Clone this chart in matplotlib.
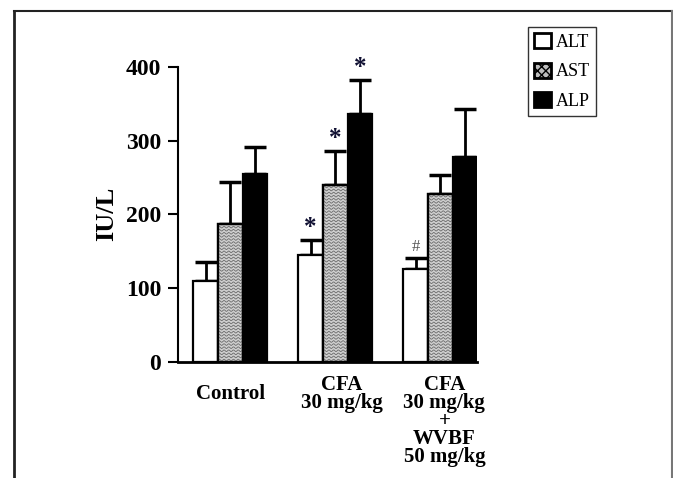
import numpy as np
import matplotlib
matplotlib.use("Agg")
import matplotlib.pyplot as plt
from matplotlib.patches import Patch, Rectangle
from matplotlib.lines import Line2D

groups = ["Control", "CFA\n30 mg/kg", "CFA\n30 mg/kg\n+\nWVBF\n50 mg/kg"]
alt = [109, 145, 126]
alt_err = [26, 20, 15]
ast = [187, 240, 227]
ast_err = [57, 46, 26]
alp = [255, 336, 278]
alp_err = [37, 46, 65]
# significance marks: (group, series index, label)
marks = [(1, 0, "*"), (1, 1, "*"), (1, 2, "*"), (2, 0, "#")]

plt.rcParams["font.family"] = ["Liberation Serif", "DejaVu Serif"]

fig = plt.figure(figsize=(6.73, 4.78), dpi=100)
ax = fig.add_axes([0.2645, 0.2437, 0.4445, 0.616])

w = 0.235
x = np.arange(len(groups))
series = [alt, ast, alp]
errs = [alt_err, ast_err, alp_err]
faces = ["white", "#cfcfcf", "black"]

bars_all = []
for i, (vals, er, fc) in enumerate(zip(series, errs, faces)):
    pos = x + (i - 1) * w
    bars = ax.bar(pos, vals, w, color=fc, edgecolor="black", linewidth=1.6, zorder=3)
    ax.errorbar(pos, vals, yerr=[np.zeros(len(vals)), er], fmt="none",
                ecolor="black", elinewidth=2, capsize=8, capthick=2.5, zorder=2)
    bars_all.append(bars)

# wavy texture on the AST bars
for b in bars_all[1]:
    x0 = b.get_x()
    xs = np.linspace(x0, x0 + w, 200)
    for yy in np.arange(2, b.get_height(), 4.2):
        ln, = ax.plot(xs, yy + 1.1 * np.sin((xs - x0) / 0.045 * 2 * np.pi),
                      color="#6a6a6a", lw=0.6, zorder=3.5)
        ln.set_clip_path(b)
    ax.add_patch(Rectangle((x0, 0), w, b.get_height(), fill=False,
                           edgecolor="black", lw=1.6, zorder=4))

for g, s, lab in marks:
    top = series[s][g] + errs[s][g]
    if lab == "*":
        ax.text(x[g] + (s - 1) * w, top + 2, lab, ha="center", va="bottom",
                fontsize=18, fontweight="bold", color="#111133")
    else:
        ax.text(x[g] + (s - 1) * w, top + 4, lab, ha="center", va="bottom",
                fontsize=12, color="#555555")

ax.set_xlim(-0.5, 2 + 1.5 * w)
ax.set_ylim(0, 400)
ax.set_yticks([0, 100, 200, 300, 400])
ax.set_xticks(x)
ax.set_xticklabels([])
ax.tick_params(axis="x", length=0)
ax.tick_params(axis="y", direction="out", length=7, width=1.5, labelsize=17, pad=5)
for t in ax.get_yticklabels():
    t.set_fontweight("bold")

# group labels: Control sits lower than the stacked labels
label_off = [0.0, 0.06, 0.04]
label_top = [-0.075, -0.045, -0.045]
for g, lab in enumerate(groups):
    ax.text(x[g] + label_off[g], label_top[g], lab, transform=ax.get_xaxis_transform(),
            ha="center", va="top", fontsize=15, fontweight="bold",
            linespacing=0.87, multialignment="center")

ax.spines["top"].set_visible(False)
ax.spines["right"].set_visible(False)
ax.spines["left"].set_linewidth(1.5)
ax.spines["bottom"].set_linewidth(2)
ax.set_ylabel("IU/L", fontsize=19, fontweight="bold", labelpad=6)

handles = [Patch(facecolor="white", edgecolor="black", lw=2),
           Patch(facecolor="#bdbdbd", edgecolor="black", lw=2, hatch="xxxx"),
           Patch(facecolor="black", edgecolor="black", lw=2)]
leg = fig.legend(handles, ["ALT", "AST", "ALP"], loc="upper left",
                 bbox_to_anchor=(528 / 673, 1 - 27 / 478), fontsize=13,
                 frameon=True, fancybox=False, edgecolor="black",
                 handlelength=0.9, handleheight=0.9, handletextpad=0.3,
                 borderpad=0.35, labelspacing=0.65, borderaxespad=0)
leg.get_frame().set_linewidth(1)

# page frame
fig.add_artist(Line2D([14 / 673, 14 / 673], [0, 1 - 11 / 478], color="#222222", lw=2))
fig.add_artist(Line2D([14 / 673, 671.5 / 673], [1 - 11 / 478, 1 - 11 / 478], color="#222222", lw=1.5))
fig.add_artist(Line2D([671.5 / 673, 671.5 / 673], [0, 1 - 11 / 478], color="#777777", lw=1.5))

fig.savefig("out.png", dpi=100)
